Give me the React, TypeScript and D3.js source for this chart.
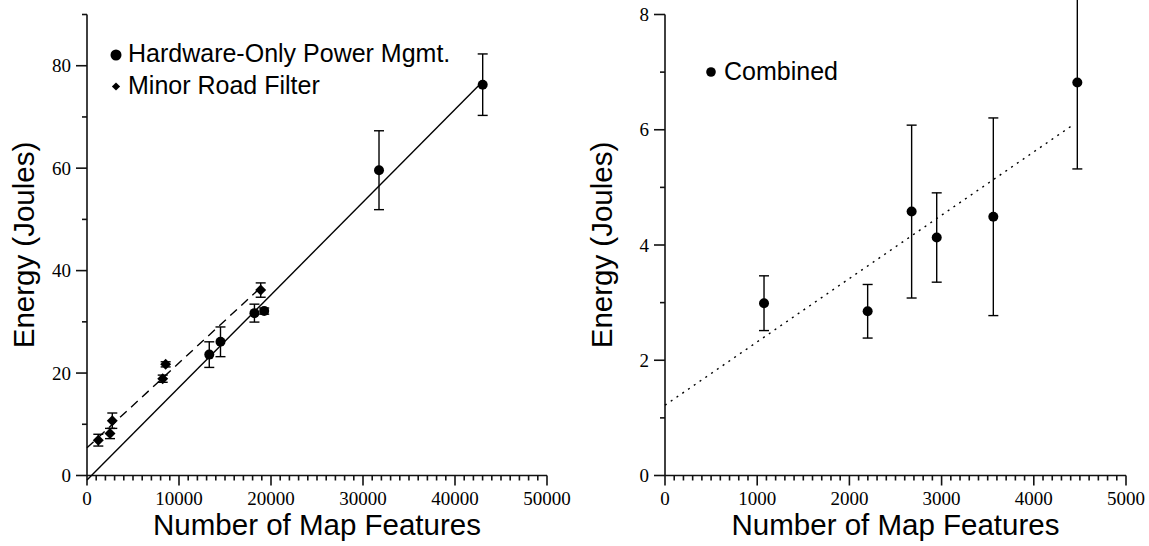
import { useEffect, useRef } from "react";
import * as d3 from "d3";

// Hardware-only power management (circles)
const hwFeatures = [13290, 14510, 18200, 19260, 31740, 43010];
const hwEnergy = [23.6, 26.1, 31.7, 32.1, 59.6, 76.3];
const hwErr = [2.5, 2.9, 1.75, 0.6, 7.7, 6.0];

// Minor road filter (diamonds)
const roadFeatures = [1230, 2500, 2750, 8230, 8550, 18880];
const roadEnergy = [6.9, 8.2, 10.7, 18.9, 21.7, 36.2];
const roadErr = [1.15, 1.0, 1.5, 0.7, 0.5, 1.4];

// Combined (right panel)
const combinedFeatures = [1074, 2198, 2675, 2947, 3561, 4472];
const combinedEnergy = [2.99, 2.85, 4.58, 4.13, 4.49, 6.82];
const combinedErr = [0.475, 0.465, 1.5, 0.775, 1.715, 1.5];

// fit line end points
const hwFitX = [0, 43010];
const hwFitY = [-0.9, 76.9];
const roadFitX = [0, 18880];
const roadFitY = [5.4, 36.7];
const combinedFitX = [0, 4440];
const combinedFitY = [1.22, 6.1];

const leftXTicks = [0, 10000, 20000, 30000, 40000, 50000];
const leftYTicks = [0, 20, 40, 60, 80];
const rightXTicks = [0, 1000, 2000, 3000, 4000, 5000];
const rightYTicks = [0, 2, 4, 6, 8];

const SANS = "'Liberation Sans', Arial, sans-serif";
const SERIF = "'Liberation Serif', 'Times New Roman', serif";

type G = d3.Selection<SVGGElement, unknown, null, undefined>;

function drawAxes(
  g: G,
  x: d3.ScaleLinear<number, number>,
  y: d3.ScaleLinear<number, number>,
  xTicks: number[],
  xMinor: number,
  yTicks: number[],
  yMinor: number
) {
  const [x0, x1] = x.range();
  const [y0, y1] = y.range();
  const ax = g.append("g").attr("stroke", "#111").attr("stroke-width", 1.6);

  ax.append("line").attr("x1", x0).attr("x2", x1).attr("y1", y0).attr("y2", y0);
  ax.append("line").attr("x1", x0).attr("x2", x0).attr("y1", y0).attr("y2", y1);

  const [xd0, xd1] = x.domain();
  const xm = d3.range(xd0, xd1 + xMinor / 2, xMinor);
  ax.selectAll(".xm")
    .data(xm)
    .enter()
    .append("line")
    .attr("x1", (d) => x(d))
    .attr("x2", (d) => x(d))
    .attr("y1", y0)
    .attr("y2", (d) => (xTicks.includes(d) ? y0 + 10 : y0 + 5));

  const [yd0, yd1] = y.domain();
  const ym = d3.range(yd0, yd1 + yMinor / 2, yMinor);
  ax.selectAll(".ym")
    .data(ym)
    .enter()
    .append("line")
    .attr("y1", (d) => y(d))
    .attr("y2", (d) => y(d))
    .attr("x1", x0)
    .attr("x2", (d) => (yTicks.includes(d) ? x0 - 11 : x0 - 5));

  g.selectAll(".xl")
    .data(xTicks)
    .enter()
    .append("text")
    .attr("x", (d) => x(d))
    .attr("y", y0 + 29)
    .attr("text-anchor", "middle")
    .attr("font-family", SERIF)
    .attr("font-size", 19)
    .text((d) => String(d));

  g.selectAll(".yl")
    .data(yTicks)
    .enter()
    .append("text")
    .attr("x", x0 - 16)
    .attr("y", (d) => y(d))
    .attr("dy", "0.35em")
    .attr("text-anchor", "end")
    .attr("font-family", SERIF)
    .attr("font-size", 19)
    .text((d) => String(d));

  g.append("text")
    .attr("x", (x0 + x1) / 2)
    .attr("y", 535)
    .attr("text-anchor", "middle")
    .attr("font-family", SANS)
    .attr("font-size", 29.5)
    .text("Number of Map Features");

  g.append("text")
    .attr("transform", `translate(${x0 - 53},${(y0 + y1) / 2}) rotate(-90)`)
    .attr("text-anchor", "middle")
    .attr("font-family", SANS)
    .attr("font-size", 29.5)
    .text("Energy (Joules)");
}

function drawSeries(
  g: G,
  x: d3.ScaleLinear<number, number>,
  y: d3.ScaleLinear<number, number>,
  xs: number[],
  ys: number[],
  errs: number[],
  shape: "circle" | "diamond"
) {
  const idx = d3.range(xs.length);
  const eb = g.append("g").attr("stroke", "#000").attr("stroke-width", 1.4);
  idx.forEach((i) => {
    const cx = x(xs[i]);
    const top = y(ys[i] + errs[i]);
    const bot = y(ys[i] - errs[i]);
    eb.append("line").attr("x1", cx).attr("x2", cx).attr("y1", top).attr("y2", bot);
    eb.append("line").attr("x1", cx - 5).attr("x2", cx + 5).attr("y1", top).attr("y2", top);
    eb.append("line").attr("x1", cx - 5).attr("x2", cx + 5).attr("y1", bot).attr("y2", bot);
  });

  const sym =
    shape === "circle"
      ? d3.symbol().type(d3.symbolCircle).size(Math.PI * 25)
      : d3.symbol().type(d3.symbolSquare).size(60);
  g.selectAll(".pt")
    .data(idx)
    .enter()
    .append("path")
    .attr("d", sym() as string)
    .attr(
      "transform",
      (i) => `translate(${x(xs[i])},${y(ys[i])})${shape === "diamond" ? " rotate(45)" : ""}`
    )
    .attr("fill", "#000");
}

function drawFit(
  g: G,
  x: d3.ScaleLinear<number, number>,
  y: d3.ScaleLinear<number, number>,
  xs: number[],
  ys: number[],
  dash: string | null
) {
  const line = d3
    .line<number>()
    .x((i) => x(xs[i]))
    .y((i) => y(ys[i]));
  g.append("path")
    .attr("d", line(d3.range(xs.length)))
    .attr("fill", "none")
    .attr("stroke", "#000")
    .attr("stroke-width", 1.4)
    .attr("stroke-dasharray", dash);
}

const App: React.FC = () => {
  const svgRef = useRef<SVGSVGElement | null>(null);

  useEffect(() => {
    if (!svgRef.current) return;
    const svg = d3.select(svgRef.current);
    svg.selectAll("*").remove();

    // left panel
    const lx = d3.scaleLinear().domain([0, 50000]).range([87, 547]);
    const ly = d3.scaleLinear().domain([0, 90]).range([475.5, 14.5]);
    const left = svg.append("g");
    drawAxes(left, lx, ly, leftXTicks, 1000, leftYTicks, 10);
    drawFit(left, lx, ly, hwFitX, hwFitY, null);
    drawFit(left, lx, ly, roadFitX, roadFitY, "9,6");
    drawSeries(left, lx, ly, roadFeatures, roadEnergy, roadErr, "diamond");
    drawSeries(left, lx, ly, hwFeatures, hwEnergy, hwErr, "circle");

    // left legend
    left.append("circle").attr("cx", 116).attr("cy", 55).attr("r", 5.5).attr("fill", "#000");
    left
      .append("text")
      .attr("x", 128)
      .attr("y", 62)
      .attr("font-family", SANS)
      .attr("font-size", 25)
      .text("Hardware-Only Power Mgmt.");
    left
      .append("path")
      .attr("d", d3.symbol().type(d3.symbolSquare).size(34)() as string)
      .attr("transform", "translate(116,86.5) rotate(45)")
      .attr("fill", "#000");
    left
      .append("text")
      .attr("x", 128)
      .attr("y", 93.5)
      .attr("font-family", SANS)
      .attr("font-size", 25)
      .text("Minor Road Filter");

    // right panel
    const rx = d3.scaleLinear().domain([0, 5000]).range([665, 1126]);
    const ry = d3.scaleLinear().domain([0, 8]).range([475.5, 14.5]);
    const right = svg.append("g");
    drawAxes(right, rx, ry, rightXTicks, 100, rightYTicks, 1);
    drawFit(right, rx, ry, combinedFitX, combinedFitY, "2,5");
    drawSeries(right, rx, ry, combinedFeatures, combinedEnergy, combinedErr, "circle");

    right.append("circle").attr("cx", 711).attr("cy", 72).attr("r", 4.8).attr("fill", "#000");
    right
      .append("text")
      .attr("x", 724)
      .attr("y", 80)
      .attr("font-family", SANS)
      .attr("font-size", 25)
      .text("Combined");
  }, []);

  return (
    <svg
      ref={svgRef}
      width={1149}
      height={546}
      style={{ position: "absolute", left: 0, top: 0, background: "#fff" }}
    ></svg>
  );
};

export default App;
